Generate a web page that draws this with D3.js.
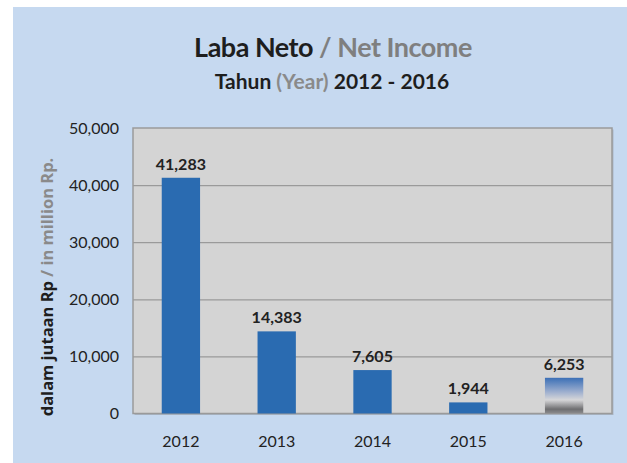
<!DOCTYPE html>
<html><head><meta charset="utf-8">
<script src="https://cdn.jsdelivr.net/npm/d3@7"></script>
<style>body{margin:0;background:#fff}svg{display:block}</style>
</head><body>
<script>
const years = ["2012","2013","2014","2015","2016"];
const values = [41283, 14383, 7605, 1944, 6253];
const yTicks = [0, 10000, 20000, 30000, 40000, 50000];

const W = 627, H = 463;
const svg = d3.select("body").append("svg").attr("width", W).attr("height", H);
const font = "Lato, 'Open Sans', sans-serif";

svg.append("rect").attr("x", 13).attr("y", 7).attr("width", W - 13).attr("height", H - 7).attr("fill", "#c6d9f0");

const plot = {l: 133, r: 612, t: 128, b: 413.5};
const x = d3.scaleBand().domain(years).range([plot.l, plot.r]).paddingInner(0.6).paddingOuter(0.3);
const y = d3.scaleLinear().domain([0, 50000]).range([plot.b, plot.t]);

const defs = svg.append("defs");
const g = defs.append("linearGradient").attr("id", "grad16").attr("x1", 0).attr("y1", 0).attr("x2", 0).attr("y2", 1);
[["0%", "#3b6fb6"], ["40%", "#9fb0cf"], ["62%", "#d6d6d8"], ["88%", "#6e6e70"], ["100%", "#8c8c8e"]].forEach(s =>
  g.append("stop").attr("offset", s[0]).attr("stop-color", s[1]));

// shadow + plot bg
svg.append("rect").attr("x", plot.l + 1.5).attr("y", plot.t + 1.5).attr("width", plot.r - plot.l).attr("height", plot.b - plot.t).attr("fill", "#a9b6c6");
svg.append("rect").attr("x", plot.l).attr("y", plot.t).attr("width", plot.r - plot.l).attr("height", plot.b - plot.t).attr("fill", "#d4d4d4").attr("stroke", "#9a9a9a").attr("stroke-width", 1.5);

const yAxis = d3.axisLeft(y).tickValues(yTicks).tickSize(-(plot.r - plot.l)).tickFormat(d3.format(","));
const ya = svg.append("g").attr("transform", `translate(${plot.l},0)`).call(yAxis);
ya.select(".domain").remove();
ya.selectAll(".tick line").attr("stroke", "#9a9a9a").attr("stroke-width", 1.3).filter(d => d === 0 || d === 50000).remove();
ya.selectAll(".tick text").attr("x", -14).attr("fill", "#222").style("font-family", font).style("font-size", "16px");

const xAxis = d3.axisBottom(x).tickSize(0);
const xa = svg.append("g").attr("transform", `translate(0,${plot.b})`).call(xAxis);
xa.select(".domain").remove();
xa.selectAll(".tick text").attr("dy", "1.9em").attr("fill", "#222").style("font-family", font).style("font-size", "16px");

svg.selectAll(".bar").data(years).join("rect").attr("class", "bar")
  .attr("x", d => x(d)).attr("width", x.bandwidth())
  .attr("y", (d, i) => y(values[i])).attr("height", (d, i) => y(0) - y(values[i]))
  .attr("fill", (d, i) => d === "2016" ? "url(#grad16)" : "#2a6bb1");

svg.selectAll(".val").data(years).join("text").attr("class", "val")
  .attr("x", d => x(d) + x.bandwidth() / 2).attr("y", (d, i) => y(values[i]) - 8)
  .attr("text-anchor", "middle").attr("fill", "#222").style("font-family", font)
  .style("font-size", "16px").style("font-weight", "bold").text((d, i) => d3.format(",")(values[i]));

const t1 = svg.append("text").attr("x", 333).attr("y", 57).attr("text-anchor", "middle")
  .style("font-family", font).style("font-size", "27px").style("font-weight", "bold").style("letter-spacing", "-0.5px");
t1.append("tspan").attr("fill", "#1e1e1e").text("Laba Neto ");
t1.append("tspan").attr("fill", "#7f7f7f").text("/ Net Income");

const t2 = svg.append("text").attr("x", 332).attr("y", 89).attr("text-anchor", "middle")
  .style("font-family", font).style("font-size", "21px").style("font-weight", "bold");
t2.append("tspan").attr("fill", "#1e1e1e").text("Tahun ");
t2.append("tspan").attr("fill", "#8a8a8a").text("(Year)");
t2.append("tspan").attr("fill", "#1e1e1e").text(" 2012 - 2016");

const yl = svg.append("text").attr("transform", "translate(53,287) rotate(-90)").attr("text-anchor", "middle")
  .style("font-family", "'Open Sans', sans-serif").style("font-size", "16.5px").style("font-weight", "bold");
yl.append("tspan").attr("fill", "#1e1e1e").text("dalam jutaan Rp ");
yl.append("tspan").attr("fill", "#8a8a8a").text("/ in million Rp.");
</script>
</body></html>
